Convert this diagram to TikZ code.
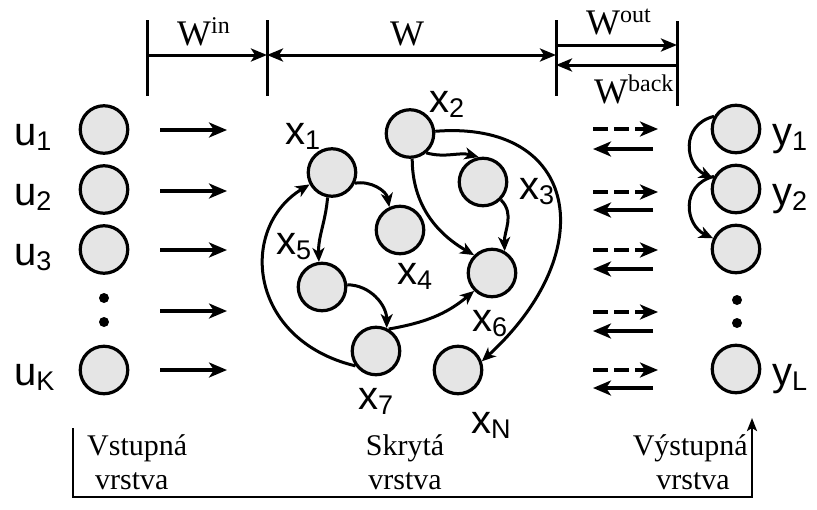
\documentclass[tikz,border=0pt]{standalone}
\usepackage{fontspec}
\setmainfont{Liberation Serif}
\newfontfamily\arialf{Liberation Sans}
\usetikzlibrary{arrows.meta}
\newcommand\sublab[2]{{\arialf\fontsize{40}{40}\selectfont #1\raisebox{-5pt}{\fontsize{27}{27}\selectfont #2}}}
\newcommand\wlab[2]{{\fontsize{36}{36}\selectfont W\raisebox{12pt}{\fontsize{24}{24}\selectfont #2}}}
\begin{document}
\begin{tikzpicture}[x=1pt,y=-1pt,
  neuron/.style={circle,draw,line width=3.2pt,fill=black!10,minimum size=47.5pt,inner sep=0},
  lab/.style={anchor=base west,inner sep=0},
  arr/.style={line width=3.2pt,-{Stealth[length=18pt,width=15pt,inset=5pt]}},
  darr/.style={arr,dash pattern=on 15pt off 6pt},
  garr/.style={line width=3pt,-{Stealth[length=14pt,width=12pt,inset=4pt]}},
  dimarr/.style={line width=3pt,-{Stealth[length=16pt,width=13pt,inset=4pt]}},
  tick/.style={line width=3pt},
  dotn/.style={circle,fill,inner sep=0,minimum size=10pt},
  txt/.style={inner sep=0,font=\fontsize{30}{30}\selectfont}]
\useasboundingbox (0,0) rectangle (817,509);

% ---------- top dimension lines ----------
\coordinate (t1a) at (147,20); \coordinate (t1b) at (147,96);
\coordinate (t2a) at (267,20); \coordinate (t2b) at (267,96);
\coordinate (t3a) at (556,20); \coordinate (t3b) at (556,96);
\coordinate (t4a) at (677,21); \coordinate (t4b) at (677,106);
\foreach \t in {1,2,3,4} \draw[tick] (t\t a) -- (t\t b);
\coordinate (a1) at (147,55); \coordinate (a2) at (267,55); \coordinate (a3) at (556,55);
\coordinate (o1) at (556,45); \coordinate (o2) at (677,45);
\coordinate (b1) at (677,65); \coordinate (b2) at (556,65);
\draw[dimarr] (a1) -- (a2);
\draw[line width=3pt,{Stealth[length=16pt,width=13pt,inset=4pt]}-{Stealth[length=16pt,width=13pt,inset=4pt]}] (a2) -- (a3);
\draw[dimarr] (o1) -- (o2);
\draw[dimarr] (b1) -- (b2);
\node[lab] (lwin) at (177,45) {\wlab{W}{in}};
\node[lab,anchor=base] (lw) at (407,45) {\fontsize{36}{36}\selectfont W};
\node[lab] (lwout) at (586,34) {\wlab{W}{out}};
\node[lab] (lwback) at (594,103) {\wlab{W}{back}};

% ---------- input layer ----------
\node[neuron] (u1) at (104,129.5) {};
\node[neuron] (u2) at (104,189.5) {};
\node[neuron] (u3) at (104,249.5) {};
\node[dotn] (ud1) at (104,298) {};
\node[dotn] (ud2) at (104,322) {};
\node[neuron] (uK) at (104,370) {};
\node[lab] (lu1) at (14,145) {\sublab{u}{1}};
\node[lab] (lu2) at (14,205) {\sublab{u}{2}};
\node[lab] (lu3) at (14,265) {\sublab{u}{3}};
\node[lab] (luK) at (14,385) {\sublab{u}{K}};
\foreach \i/\y in {1/130,2/191,3/250,4/311,5/370}{
  \coordinate (is\i) at (160,\y); \coordinate (ie\i) at (227,\y);
  \draw[arr] (is\i) -- (ie\i);
}

% ---------- hidden layer ----------
\node[neuron] (x1) at (332,172.5) {};
\node[neuron] (x2) at (410,133.5) {};
\node[neuron] (x3) at (483,182) {};
\node[neuron] (x4) at (400,230) {};
\node[neuron] (x5) at (322,287) {};
\node[neuron] (x6) at (492,273) {};
\node[neuron] (x7) at (376,351) {};
\node[neuron] (xN) at (458,370) {};
\node[lab] (lx1) at (285,144) {\sublab{x}{1}};
\node[lab] (lx2) at (429,112) {\sublab{x}{2}};
\node[lab] (lx3) at (519,199) {\sublab{x}{3}};
\node[lab] (lx4) at (397,284) {\sublab{x}{4}};
\node[lab] (lx5) at (276,254) {\sublab{x}{5}};
\node[lab] (lx6) at (472,331) {\sublab{x}{6}};
\node[lab] (lx7) at (358,409) {\sublab{x}{7}};
\node[lab] (lxN) at (471,433) {\sublab{x}{N}};

\draw[garr] (x1.-25) to[out=10,in=100] (x4.115);
\draw[garr] (x1.-100) to[out=-95,in=92] (x5.97);
\draw[garr] (x5.5) to[out=0,in=90] (x7.65);
\draw[garr] (x7.60) to[out=10,in=220] (x6.225);
\draw[garr] (x7.216) .. controls (248,340) and (238,228) .. (x1.208);
\draw[garr] (x2.-50) to[out=-15,in=165] (x3.100);
\draw[garr] (x2.-85) to[out=-90,in=150] (x6.135);
\draw[garr] (x3.-45) to[out=-45,in=92] (x6.60);
\draw[garr] (x2.5) .. controls (578,120) and (603,250) .. (xN.20);

% ---------- output layer ----------
\node[neuron] (y1) at (736,129) {};
\node[neuron] (y2) at (736,189) {};
\node[neuron] (y3) at (736,249) {};
\node[dotn] (yd1) at (737,300) {};
\node[dotn] (yd2) at (737,323) {};
\node[neuron] (yL) at (736,369) {};
\node[lab] (ly1) at (772,145) {\sublab{y}{1}};
\node[lab] (ly2) at (772,205) {\sublab{y}{2}};
\node[lab] (lyL) at (772,385) {\sublab{y}{L}};
\draw[garr] (y1.150) .. controls (680,125) and (685,165) .. (y2.155);
\draw[garr] (y2.150) .. controls (680,185) and (685,225) .. (y3.155);

\foreach \i/\yd/\yb in {1/129/149,2/192/210,3/250/269,4/312/331,5/370/388}{
  \coordinate (ds\i) at (593,\yd); \coordinate (de\i) at (658,\yd);
  \coordinate (bs\i) at (653,\yb); \coordinate (be\i) at (593,\yb);
  \draw[darr] (ds\i) -- (de\i);
  \draw[arr] (bs\i) -- (be\i);
}

% ---------- bottom frame ----------
\coordinate (fa) at (73,428);
\coordinate (fb) at (73,497);
\coordinate (fc) at (752,497);
\coordinate (fd) at (752,418);
\draw[line width=2.6pt,-{Stealth[length=13pt,width=10pt,inset=3pt]}] (fa) -- (fb) -- (fc) -- (fd);
\node[txt,anchor=base west] (v1) at (87,455) {Vstupná};
\node[txt,anchor=base west] (v2) at (95,489) {vrstva};
\node[txt,anchor=base] (s1) at (405,455) {Skrytá};
\node[txt,anchor=base] (s2) at (405,489) {vrstva};
\node[txt,anchor=base east] (o1t) at (748,455) {Výstupná};
\node[txt,anchor=base] (o2t) at (693,489) {vrstva};
\end{tikzpicture}
\end{document}
